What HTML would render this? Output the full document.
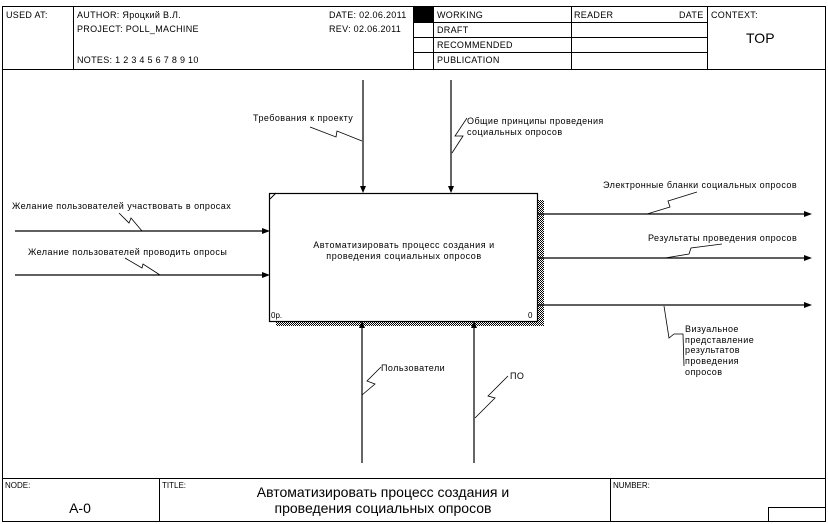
<!DOCTYPE html>
<html><head><meta charset="utf-8"><style>
html,body{margin:0;padding:0;background:#fff}
svg{display:block}
text{font-family:"Liberation Sans","DejaVu Sans",sans-serif;fill:#000}
.s{letter-spacing:0.45px}
</style></head><body>
<svg width="828" height="524" viewBox="0 0 828 524" xmlns="http://www.w3.org/2000/svg">
<defs>
<pattern id="hatch" width="2" height="2" patternUnits="userSpaceOnUse">
<rect width="2" height="2" fill="#fff"/><rect width="1" height="1" fill="#000"/><rect x="1" y="1" width="1" height="1" fill="#000"/>
</pattern>
</defs>
<g stroke="#000" stroke-width="1" fill="none" shape-rendering="crispEdges">
<rect x="2.5" y="6.5" width="823" height="515"/>
<line x1="2" y1="69.5" x2="826" y2="69.5"/>
<line x1="73.5" y1="6" x2="73.5" y2="69"/>
<line x1="413.5" y1="6" x2="413.5" y2="69"/>
<line x1="433.5" y1="6" x2="433.5" y2="69"/>
<line x1="571.5" y1="6" x2="571.5" y2="69"/>
<line x1="707.5" y1="6" x2="707.5" y2="69"/>
<line x1="413" y1="22.5" x2="707" y2="22.5"/>
<line x1="413" y1="37.5" x2="707" y2="37.5"/>
<line x1="413" y1="52.5" x2="707" y2="52.5"/>
<line x1="2" y1="478.5" x2="826" y2="478.5"/>
<line x1="159.5" y1="478" x2="159.5" y2="522"/>
<line x1="610.5" y1="478" x2="610.5" y2="522"/>
<rect x="768.5" y="507.5" width="57" height="14"/>
</g>
<rect x="414" y="7" width="19" height="15" fill="#000"/>
<g font-size="9" style="letter-spacing:0.3px">
<text x="6" y="18">USED AT:</text>
<text x="77" y="18">AUTHOR:  Яроцкий В.Л.</text>
<text x="77" y="32">PROJECT:  POLL_MACHINE</text>
<text x="77" y="63">NOTES:  1  2  3  4  5  6  7  8  9  10</text>
<text x="329" y="18">DATE:  02.06.2011</text>
<text x="329" y="32">REV:    02.06.2011</text>
<text x="437" y="18">WORKING</text>
<text x="437" y="33">DRAFT</text>
<text x="437" y="48">RECOMMENDED</text>
<text x="437" y="63">PUBLICATION</text>
<text x="574" y="18">READER</text>
<text x="679" y="18">DATE</text>
<text x="711" y="18">CONTEXT:</text>
</g>
<text x="746" y="43" font-size="14">TOP</text>
<g font-size="8">
<text x="5" y="488">NODE:</text>
<text x="162" y="488">TITLE:</text>
<text x="613" y="488">NUMBER:</text>
</g>
<text x="80" y="513" font-size="14" text-anchor="middle">A-0</text>
<text x="383" y="497" font-size="14" text-anchor="middle">Автоматизировать процесс создания и</text>
<text x="383" y="513" font-size="14" text-anchor="middle">проведения социальных опросов</text>

<rect x="537" y="200" width="7" height="126" fill="url(#hatch)"/>
<rect x="276" y="321" width="268" height="5" fill="url(#hatch)"/>
<rect x="269.5" y="193.5" width="268" height="128" fill="#fff" stroke="#000" stroke-width="1.2"/>
<line x1="270" y1="199" x2="276" y2="193" stroke="#000"/>
<text x="404" y="248" font-size="9" text-anchor="middle" style="letter-spacing:0.55px">Автоматизировать процесс создания и</text>
<text x="404" y="259" font-size="9" text-anchor="middle" style="letter-spacing:0.55px">проведения социальных опросов</text>
<text x="271" y="318" font-size="8">0р.</text>
<text x="528" y="318" font-size="8">0</text>

<g stroke="#000" stroke-width="1.2" fill="none">
<line x1="15" y1="231" x2="266" y2="231"/>
<line x1="15" y1="275" x2="266" y2="275"/>
<line x1="363" y1="80" x2="363" y2="189"/>
<line x1="451" y1="80" x2="451" y2="189"/>
<line x1="362" y1="463" x2="362" y2="326"/>
<line x1="474" y1="463" x2="474" y2="326"/>
<line x1="538" y1="214" x2="808" y2="214"/>
<line x1="538" y1="258" x2="808" y2="258"/>
<line x1="538" y1="305" x2="808" y2="305"/>
</g>
<g fill="#000">
<polygon points="262,228 270,231 262,234"/>
<polygon points="262,272 270,275 262,278"/>
<polygon points="360,186 363,193 366,186"/>
<polygon points="448,186 451,193 454,186"/>
<polygon points="359,328 362,321 365,328"/>
<polygon points="471,328 474,321 477,328"/>
<polygon points="804,211 812,214 804,217"/>
<polygon points="804,255 812,258 804,261"/>
<polygon points="804,302 812,305 804,308"/>
</g>
<g stroke="#000" stroke-width="0.8" fill="none">
<polyline points="119,213 129,223 131,218 142,231"/>
<polyline points="125,258 142,268 143,264 160,275"/>
<polyline points="310,127 336,137 337,131 362,141"/>
<polyline points="467,118 455,136 463,136 452,153"/>
<polyline points="381,367 367,381 375,384 362,395"/>
<polyline points="508,376 488,396 495,398 475,418"/>
<polyline points="647,214 670,207 668,201 697,192"/>
<polyline points="665,258 689,254 691,248 722,244"/>
<polyline points="664,306 669,338 674,334 683,334 684,366"/>
</g>
<g font-size="9" class="s">
<text x="12" y="209">Желание пользователей участвовать в опросах</text>
<text x="28" y="255">Желание пользователей проводить опросы</text>
<text x="253" y="121">Требования к проекту</text>
<text x="467" y="124">Общие принципы проведения</text>
<text x="467" y="135">социальных опросов</text>
<text x="381" y="371">Пользователи</text>
<text x="510" y="379">ПО</text>
<text x="603" y="188">Электронные бланки социальных опросов</text>
<text x="648" y="241">Результаты проведения опросов</text>
<text x="685" y="332">Визуальное</text>
<text x="685" y="343">представление</text>
<text x="685" y="353">результатов</text>
<text x="685" y="364">проведения</text>
<text x="685" y="375">опросов</text>
</g>
</svg>
</body></html>
